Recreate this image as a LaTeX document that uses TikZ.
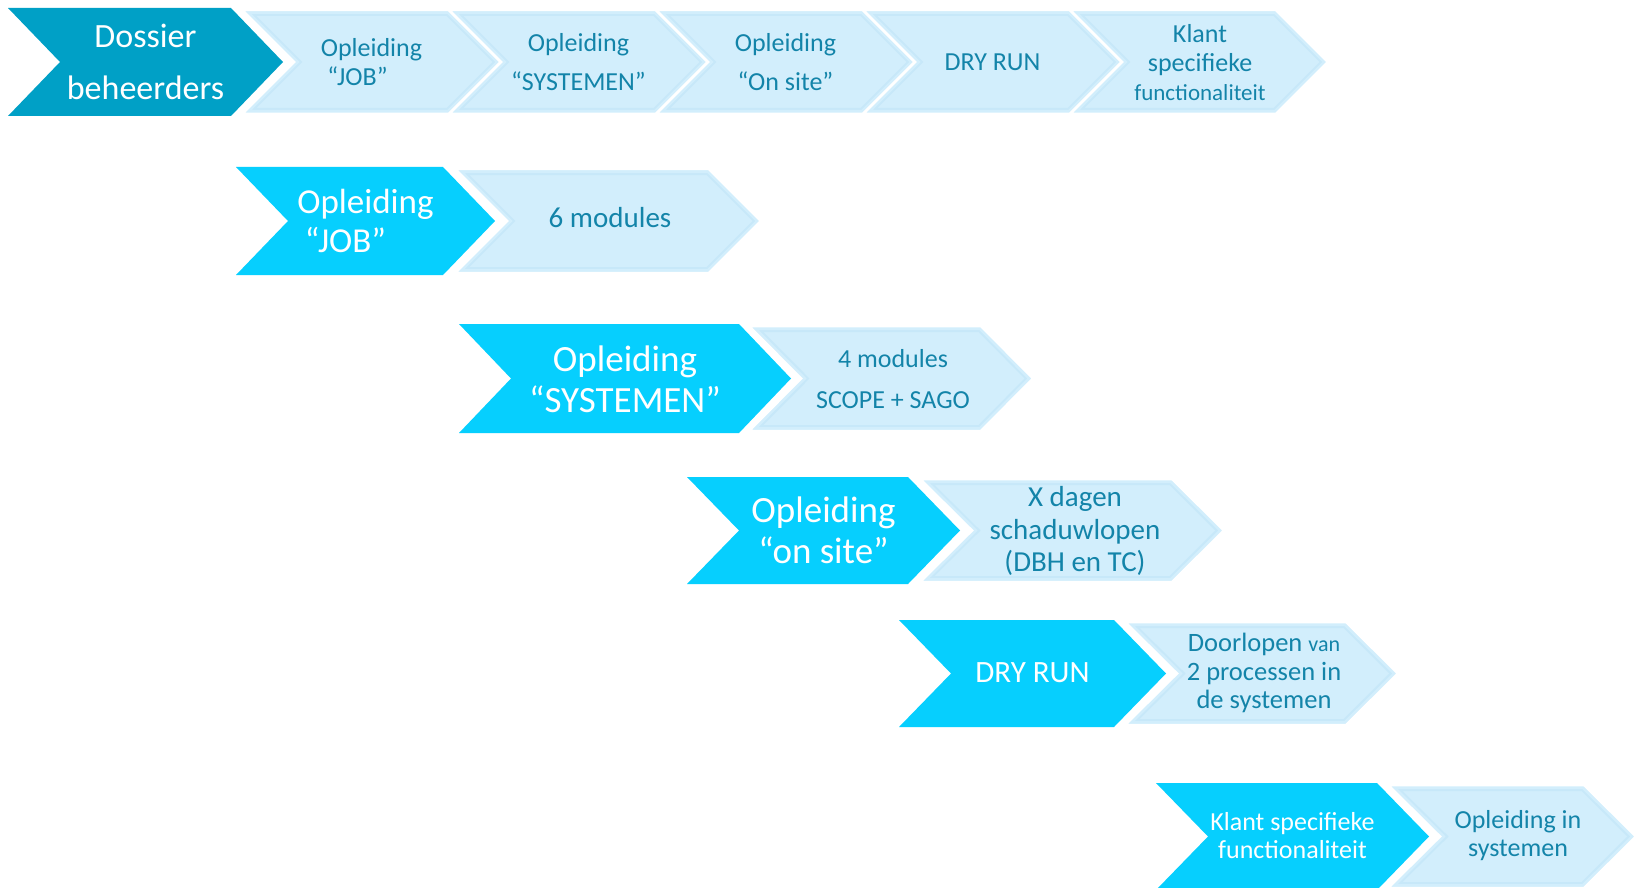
\documentclass[tikz,border=0pt]{standalone}
\usepackage{fontspec}
\setmainfont{Carlito}
\definecolor{tealdark}{HTML}{00A0C6}
\definecolor{cyandark}{HTML}{06CFFE}
\definecolor{lightfill}{HTML}{D2EEFC}
\definecolor{lightedge}{HTML}{C7E8F9}
\definecolor{lighttext}{HTML}{1384A9}
% chevron outline: L, T, R, B (pixels, y downwards), depth 52
\newcommand\chevshape[4]{(#1,#2) -- (#3,#2) -- ({#3+52},{(#2+#4)/2}) -- (#3,#4) -- (#1,#4) -- ({#1+52},{(#2+#4)/2}) -- cycle}
\newcommand\darkchev[5]{\fill[#1] \chevshape{#2}{#3}{#4}{#5};}
\newcommand\lightchev[4]{%
  \begin{scope}
    \clip \chevshape{#1}{#2}{#3}{#4};
    \fill[lightfill] \chevshape{#1}{#2}{#3}{#4};
    \draw[lightedge, line width=12pt, line join=miter] \chevshape{#1}{#2}{#3}{#4};
    \draw[lightfill, line width=8pt, line join=miter] \chevshape{#1}{#2}{#3}{#4};
  \end{scope}
  \draw[white, line width=2.5pt, line join=miter] \chevshape{#1}{#2}{#3}{#4};}
\tikzset{
  darktext/.style={text=white, align=center, inner sep=0pt},
  lighttxt/.style={text=lighttext, align=center, inner sep=0pt},
  fs/.style 2 args={font=\fontsize{#1}{#2}\selectfont}
}
\begin{document}
\begin{tikzpicture}[x=1pt, y=-1pt]
\useasboundingbox (0,0) rectangle (1636,888);
\fill[white] (0,0) rectangle (1636,888);
\clip (0,0) rectangle (1636,888);
% ---------- row 0 ----------
\darkchev{tealdark}{8}{8}{231}{116}
\lightchev{242}{10}{449}{114}
\lightchev{449}{10}{656}{114}
\lightchev{656}{10}{863}{114}
\lightchev{863}{10}{1070}{114}
\lightchev{1070}{10}{1276}{114}
\node[darktext, fs={34}{52}] (r0d) at (145.5,62) {Dossier\\beheerders};
\node[lighttxt, fs={26}{29}] (r0a) at (371.5,62) {Opleiding\\“JOB”\hspace*{28pt}};
\node[lighttxt, fs={26}{39}] (r0b) at (578.5,62) {Opleiding\\“SYSTEMEN”};
\node[lighttxt, fs={26}{39}] (r0c) at (785.5,62) {Opleiding\\“On site”};
\node[lighttxt, fs={26}{29}] (r0e) at (992.5,62) {DRY RUN};
\node[lighttxt, fs={26}{29}] (r0f) at (1200,63) {Klant\\specifieke\\{\fontsize{23}{29}\selectfont functionaliteit}};
% ---------- row 1 ----------
\darkchev{cyandark}{236}{167}{443}{275}
\lightchev{455}{169}{709}{273}
\node[darktext, fs={35}{39}] (r1d) at (365.5,221) {Opleiding\\“JOB”\hspace*{40pt}};
\node[lighttxt, fs={29}{32}] (r1l) at (610,218) {6 modules};
% ---------- row 2 ----------
\darkchev{cyandark}{459}{324}{739}{433}
\lightchev{749}{326}{981}{431}
\node[darktext, fs={37}{41}] (r2d) at (625,379) {Opleiding\\“SYSTEMEN”};
\node[lighttxt, fs={26}{41}] (r2l) at (893,379) {4 modules\\SCOPE + SAGO};
% ---------- row 3 ----------
\darkchev{cyandark}{687}{477}{908}{584}
\lightchev{920}{479}{1172}{582}
\node[darktext, fs={37}{41}] (r3d) at (823.5,530) {Opleiding\\“on site”};
\node[lighttxt, fs={29}{32.5}] (r3l) at (1075,531) {X dagen\\schaduwlopen\\(DBH en TC)};
% ---------- row 4 ----------
\darkchev{cyandark}{899}{620}{1114}{727}
\lightchev{1125}{622}{1346}{725}
\node[darktext, fs={31}{34}] (r4d) at (1032.5,673) {DRY RUN};
\node[lighttxt, fs={26.5}{28.5}] (r4l) at (1264,673) {Doorlopen {\fontsize{22}{28.5}\selectfont van}\\2 processen in\\de systemen};
% ---------- row 5 ----------
\darkchev{cyandark}{1156}{783}{1377}{890}
\lightchev{1388}{785}{1584}{888}
\node[darktext, fs={26}{28}] (r5d) at (1292.5,836) {Klant specifieke\\functionaliteit};
\node[lighttxt, fs={26}{28}] (r5l) at (1518,836) {Opleiding in\\systemen};
\end{tikzpicture}
\end{document}
